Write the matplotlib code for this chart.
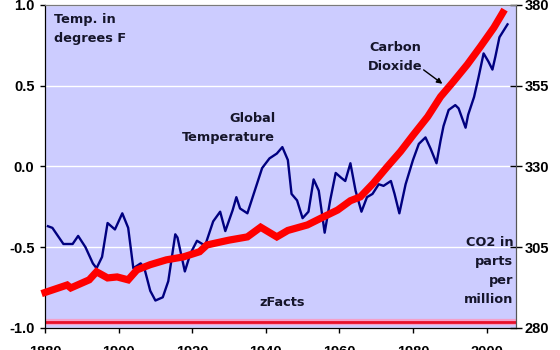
import numpy as np
import matplotlib
matplotlib.use("Agg")
import matplotlib.pyplot as plt

# global temperature anomaly, degrees F (smoothed)
temp_years = [1880.8, 1882, 1885, 1887.5, 1889, 1891, 1893, 1894, 1895.5, 1897,
              1899, 1901, 1902.6, 1904, 1906, 1907, 1908.6, 1910, 1912, 1913.5,
              1915.4, 1916, 1918, 1919.5, 1921.3, 1923.5, 1925.7, 1927.6, 1929, 1931,
              1932, 1933, 1935, 1937, 1939, 1941, 1943, 1944.5, 1946, 1947,
              1948.5, 1950, 1951.6, 1953, 1954.4, 1956, 1957.5, 1959, 1960.5, 1961.6,
              1963, 1964.4, 1966, 1967.5, 1969, 1970.7, 1972, 1974, 1975, 1976.3,
              1978, 1980, 1981.6, 1983.4, 1984.8, 1986.4, 1987.5, 1988.3, 1989.7, 1991.5,
              1992.4, 1994.3, 1995, 1996.6, 1997.8, 1999.2, 2000.5, 2001.6, 2002.4, 2003.5,
              2004.6, 2005.7]
temp = [-0.37, -0.38, -0.48, -0.48, -0.43, -0.50, -0.60, -0.63, -0.56, -0.35,
        -0.39, -0.29, -0.38, -0.63, -0.60, -0.63, -0.77, -0.83, -0.81, -0.71,
        -0.42, -0.44, -0.65, -0.54, -0.46, -0.49, -0.34, -0.28, -0.40, -0.27,
        -0.19, -0.26, -0.29, -0.15, -0.01, 0.05, 0.08, 0.12, 0.04, -0.17,
        -0.21, -0.32, -0.28, -0.08, -0.15, -0.41, -0.21, -0.04, -0.07, -0.09,
        0.02, -0.15, -0.28, -0.19, -0.17, -0.11, -0.12, -0.09, -0.17, -0.29,
        -0.11, 0.04, 0.14, 0.18, 0.11, 0.02, 0.16, 0.25, 0.35, 0.38,
        0.36, 0.24, 0.32, 0.43, 0.55, 0.70, 0.65, 0.60, 0.68, 0.80,
        0.84, 0.88]

# atmospheric CO2, ppm
co2_years = [1880, 1886, 1887, 1892, 1894, 1897, 1899.6, 1902.6, 1905, 1908.6,
             1913, 1917.6, 1922, 1924, 1930, 1935, 1938.6, 1943, 1946, 1951.3,
             1955.7, 1959.5, 1963, 1965.7, 1969.3, 1973, 1976.6, 1980.1, 1984, 1987.5,
             1991, 1994.8, 1998.4, 2002, 2004.4]
co2 = [291.0, 293.3, 292.4, 294.9, 297.4, 295.5, 295.8, 294.9, 298.0, 299.6,
       301.1, 302.0, 303.6, 305.7, 307.2, 308.2, 311.2, 308.2, 310.2, 311.9,
       314.4, 316.5, 319.4, 320.6, 324.9, 329.9, 334.6, 339.8, 345.4, 351.6,
       356.3, 361.6, 367.2, 373.0, 377.6]

temp_ticks = [-1.0, -0.5, 0.0, 0.5, 1.0]
co2_ticks = [280, 305, 330, 355, 380]
year_ticks = [1880, 1900, 1920, 1940, 1960, 1980, 2000]

bg = "#ccccff"
navy = "#000080"
ink = "#15152a"
tick_font = dict(family="Liberation Sans", weight="bold", size=10.5)
note_font = dict(family="DejaVu Sans", weight="bold", size=9.3, color=ink)

fig = plt.figure(figsize=(5.6, 3.5), dpi=100)
ax = fig.add_axes([0.0804, 0.0629, 0.8410, 0.9229])
ax.set_facecolor(bg)

ax.set_xlim(1880, 2008)
ax.set_ylim(-1.0, 1.0)
ax.set_yticks(temp_ticks)
ax.set_yticklabels([f"{t:.1f}" for t in temp_ticks], fontdict=tick_font)
ax.set_xticks(year_ticks)
ax.set_xticklabels([str(y) for y in year_ticks], fontdict=tick_font)
ax.tick_params(axis="y", direction="out", length=3.6, width=1, pad=4)
ax.tick_params(axis="x", direction="out", length=3.6, width=1, pad=9)
for t in temp_ticks:
    ax.axhline(t, color="white", lw=1, zorder=0.5)

# pre-industrial baseline
ax.axhline(-0.965, color="#f4a0c8", lw=4.5, zorder=1)
ax.axhline(-0.965, color="#e8102a", lw=2, zorder=1.1)

ax.plot(temp_years, temp, color=navy, lw=1.7, zorder=2)

ax2 = ax.twinx()
ax2.set_ylim(280, 380)
ax2.set_yticks(co2_ticks)
ax2.set_yticklabels([str(c) for c in co2_ticks], fontdict=tick_font)
ax2.tick_params(axis="y", direction="inout", length=8, width=1, pad=2)
ax2.plot(co2_years, co2, color="#ff0000", lw=5.2, solid_joinstyle="miter",
         solid_capstyle="projecting", clip_on=False, zorder=3)

for a in (ax, ax2):
    a.spines["left"].set_color("black")
    a.spines["bottom"].set_color("black")
    a.spines["top"].set_color("#7a7a7a")
    a.spines["right"].set_color("#555555")

# labels inside the plot area
ax.text(1882.4, 0.95, "Temp. in\ndegrees F", ha="left", va="top",
        linespacing=1.6, **note_font)
ax.text(1942.6, 0.34, "Global\nTemperature", ha="right", va="top",
        multialignment="right", linespacing=1.6, **note_font)
ax.text(1944.5, -0.84, "zFacts", ha="center", va="center", **note_font)
ax.text(2007.3, -0.43, "CO2 in\nparts\nper\nmillion", ha="right", va="top",
        multialignment="right", linespacing=1.6, **note_font)
ax2.text(1975.2, 364, "Carbon\nDioxide", ha="center", va="center",
         linespacing=1.6, **note_font)
ax2.annotate("", xy=(1988, 355.6), xytext=(1982.9, 359.9),
             arrowprops=dict(arrowstyle="-|>", color="black", lw=1,
                             mutation_scale=8, shrinkA=0, shrinkB=0))

fig.savefig("out.png", dpi=100)
